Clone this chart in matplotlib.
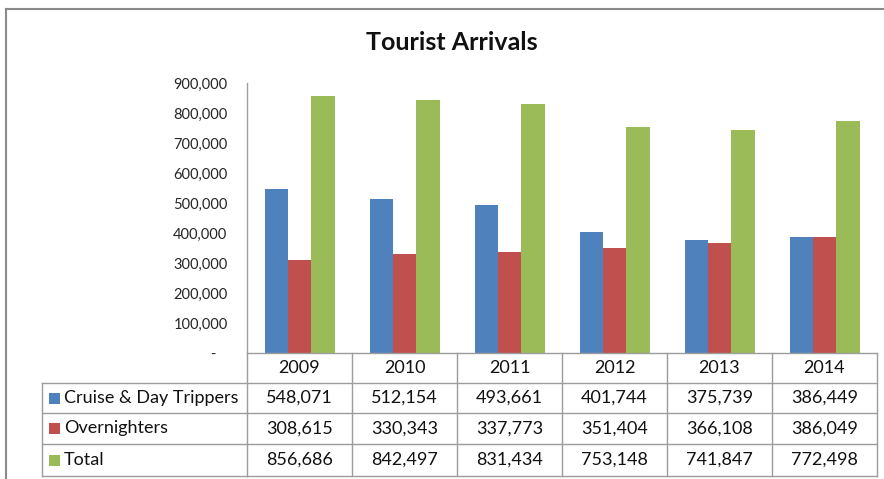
import matplotlib
matplotlib.use("Agg")
import matplotlib.pyplot as plt
from matplotlib.lines import Line2D
from matplotlib.patches import Rectangle
from matplotlib.transforms import blended_transform_factory
from matplotlib.ticker import FuncFormatter

plt.rcParams['font.family'] = ['Lato', 'DejaVu Sans']

years = ["2009", "2010", "2011", "2012", "2013", "2014"]
series_names = ["Cruise & Day Trippers", "Overnighters", "Total"]
cruise = [548071, 512154, 493661, 401744, 375739, 386449]
overnight = [308615, 330343, 337773, 351404, 366108, 386049]
total = [856686, 842497, 831434, 753148, 741847, 772498]
colors = ["#4F81BD", "#C0504D", "#9BBB59"]

W, H = 884, 479
fig = plt.figure(figsize=(W / 100, H / 100), dpi=100)
fig.patch.set_facecolor("white")


def fx(px):
    return px / W


def fy(py):
    return 1 - py / H


# plot area
ax_l, ax_r, ax_t, ax_b = 247, 877, 83, 353
ax = fig.add_axes([fx(ax_l), fy(ax_b), fx(ax_r) - fx(ax_l), fy(ax_t) - fy(ax_b)])

all_series = [cruise, overnight, total]
n = len(all_series)
bar_w = 1 / (n + 1.5)
xs = list(range(len(years)))
for k, (vals, c) in enumerate(zip(all_series, colors)):
    offs = (k - (n - 1) / 2) * bar_w
    ax.bar([x + offs for x in xs], vals, width=bar_w, color=c, linewidth=0)

ax.set_xlim(-0.5, len(years) - 0.5)
ax.set_ylim(0, 900000)
ax.set_yticks(range(0, 900001, 100000))
ax.yaxis.set_major_formatter(FuncFormatter(lambda v, p: "-   " if v == 0 else f"{int(v):,}"))
ax.tick_params(axis="y", length=0, pad=14, labelsize=10.5, labelcolor="#262626")
ax.set_xticks([])
for s in ["top", "right", "bottom"]:
    ax.spines[s].set_visible(False)
ax.spines["left"].set_color("#A0A0A0")
ax.spines["left"].set_linewidth(1.0)

# title
fig.text(fx(452), fy(42), "Tourist Arrivals", ha="center", va="center",
         fontsize=18, fontweight="bold", color="#111111")

# data table below the plot area
grid_c = "#9C9C9C"
tr = blended_transform_factory(ax.transData, fig.transFigure)
row_y = [353, 383, 413, 444, 476]
leg_l = 42
x0, x1 = -0.5, len(years) - 0.5
tfs = 13

# horizontal rules across the year columns
for py in row_y:
    fig.add_artist(Line2D([x0, x1], [fy(py), fy(py)], transform=tr, color=grid_c, lw=1.0))
# horizontal rules across the legend column (below the header row)
for py in row_y[1:]:
    fig.add_artist(Line2D([fx(leg_l), fx(ax_l)], [fy(py), fy(py)],
                          transform=fig.transFigure, color=grid_c, lw=1.0))
# vertical rules between years
for j in range(len(years) + 1):
    fig.add_artist(Line2D([j - 0.5, j - 0.5], [fy(row_y[0]), fy(row_y[-1])],
                          transform=tr, color=grid_c, lw=1.0))
fig.add_artist(Line2D([fx(leg_l), fx(leg_l)], [fy(row_y[1]), fy(row_y[-1])],
                      transform=fig.transFigure, color=grid_c, lw=1.0))

# header row: years
for j, yr in enumerate(years):
    fig.text(j, fy((row_y[0] + row_y[1]) / 2), yr, transform=tr, ha="center", va="center",
             fontsize=tfs, color="#111111")

# value rows with legend keys
for k, (name, vals, c) in enumerate(zip(series_names, all_series, colors)):
    yc = fy((row_y[k + 1] + row_y[k + 2]) / 2)
    fig.add_artist(Rectangle((fx(49), yc - 5.5 / H), 11 / W, 11 / H,
                             transform=fig.transFigure, facecolor=c, edgecolor="none"))
    fig.text(fx(64), yc, name, ha="left", va="center", fontsize=tfs, color="#111111")
    for j, v in enumerate(vals):
        fig.text(j, yc, f"{v:,}", transform=tr, ha="center", va="center",
                 fontsize=tfs, color="#111111")

# outer chart border
border_c = "#8A8A8A"
fig.add_artist(Line2D([fx(6), 1], [fy(9), fy(9)], transform=fig.transFigure, color=border_c, lw=1.5))
fig.add_artist(Line2D([fx(6), fx(6)], [fy(9), 0], transform=fig.transFigure, color=border_c, lw=1.5))

fig.savefig("out.png", dpi=100)
